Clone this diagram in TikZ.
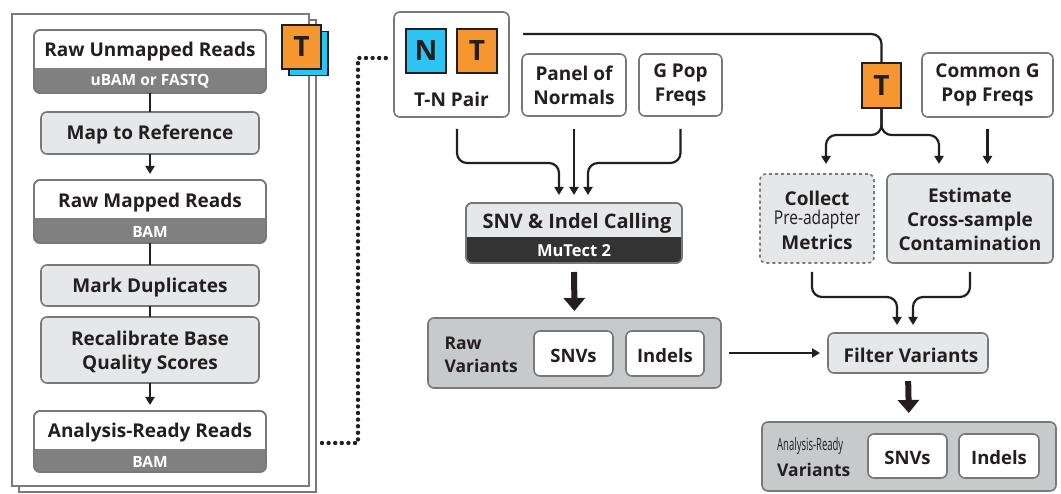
\documentclass[tikz,border=0pt]{standalone}
\usepackage{fontspec}
\setmainfont{Open Sans}
\usetikzlibrary{arrows.meta,calc}
\definecolor{tcol}{HTML}{231F20}
\definecolor{bcol}{HTML}{77787B}
\definecolor{lgray}{HTML}{E6E7E8}
\definecolor{bandg}{HTML}{808080}
\definecolor{dband}{HTML}{333333}
\definecolor{cgray}{HTML}{C8C9CB}
\definecolor{ccol}{HTML}{231F20}
\definecolor{orng}{HTML}{F5962E}
\definecolor{blu}{HTML}{2BC4F3}
\definecolor{sheetc}{HTML}{7A7A7A}
\tikzset{
  wbox/.style={draw=bcol, line width=1.6pt, rounded corners=6pt, fill=white, inner sep=0pt, outer sep=0pt},
  gbox/.style={wbox, fill=lgray},
  cbox/.style={wbox, fill=cgray},
  badge/.style={draw=tcol, line width=1.6pt, inner sep=0pt, outer sep=0pt, text=tcol, font=\bfseries\fontsize{28}{29}\selectfont},
  lab/.style={text=tcol, align=center, yshift=-2pt, font=\bfseries\fontsize{19}{24}\selectfont},
  btxt/.style={text=white, yshift=-1pt, font=\bfseries\fontsize{15.5}{17}\selectfont},
  sheet/.style={draw=sheetc, line width=1.5pt, fill=white},
  conn/.style={draw=ccol, line width=2.2pt, rounded corners=10pt},
  arr/.style={conn, -{Triangle[length=8pt,width=9pt]}},
  fat/.style={draw=ccol, line width=6pt, -{Triangle[length=13pt,width=21pt]}},
  dots/.style={draw=ccol, line width=4.4pt, line cap=round, dash pattern=on 0pt off 6.6pt}
}
\begin{document}
\begin{tikzpicture}[x=1pt,y=-1pt]
\useasboundingbox (0,0) rectangle (1061,494);

% ---------- left sheets ----------
\draw[sheet] (19,20) rectangle (316,492);
\draw[sheet] (12,14) rectangle (309,486);
\node[badge, fill=blu, minimum width=39pt, minimum height=44pt] (tb) at (308.5,53.5) {};
\node[badge, fill=orng, minimum width=39pt, minimum height=44pt] (ta) at (301.5,47) {T};

% Raw Unmapped Reads
\node[wbox, minimum width=232pt, minimum height=63pt] (ru) at (150,61.5) {};
\begin{scope}
  \clip[rounded corners=6pt] (ru.north west) rectangle (ru.south east);
  \fill[bandg] (34,68) rectangle (266,93);
\end{scope}
\draw[bcol, line width=1.6pt, rounded corners=6pt] (ru.north west) rectangle (ru.south east);
\node[lab] (rut) at (150,50) {Raw Unmapped Reads};
\node[btxt] (rub) at (150,80.5) {uBAM or FASTQ};

% Map to Reference
\node[gbox, minimum width=218pt, minimum height=42pt] (mr) at (150,133) {};
\node[lab] (mrt) at (150,133) {Map to Reference};

% Raw Mapped Reads
\node[wbox, minimum width=232pt, minimum height=63pt] (rm) at (150,211.5) {};
\begin{scope}
  \clip[rounded corners=6pt] (rm.north west) rectangle (rm.south east);
  \fill[bandg] (34,218) rectangle (266,243);
\end{scope}
\draw[bcol, line width=1.6pt, rounded corners=6pt] (rm.north west) rectangle (rm.south east);
\node[lab] (rmt) at (150,201) {Raw Mapped Reads};
\node[btxt] (rmb) at (150,230.5) {BAM};

% Mark Duplicates
\node[gbox, minimum width=218pt, minimum height=41pt] (md) at (150,285.5) {};
\node[lab] (mdt) at (150,285.5) {Mark Duplicates};
% Recalibrate
\node[gbox, minimum width=218pt, minimum height=66pt] (rc) at (150,350) {};
\node[lab] (rct) at (150,350.5) {Recalibrate Base\\Quality Scores};

% Analysis-Ready Reads
\node[wbox, minimum width=232pt, minimum height=61pt] (ar) at (150,441.5) {};
\begin{scope}
  \clip[rounded corners=6pt] (ar.north west) rectangle (ar.south east);
  \fill[bandg] (34,449) rectangle (266,472);
\end{scope}
\draw[bcol, line width=1.6pt, rounded corners=6pt] (ar.north west) rectangle (ar.south east);
\node[lab] (art) at (150,431) {Analysis-Ready Reads};
\node[btxt] (arb) at (150,461) {BAM};

\draw[conn] (ru.south) -- (mr.north);
\draw[arr, shorten >=6pt] (mr.south) -- (rm.north);
\draw[conn] (rm.south) -- (md.north);
\draw[conn] (md.south) -- (rc.north);
\draw[arr, shorten >=6pt] (rc.south) -- (ar.north);

% ---------- middle ----------
\node[wbox, minimum width=115pt, minimum height=105pt] (tn) at (451.5,64.5) {};
\node[badge, fill=blu, minimum width=40pt, minimum height=44pt] (nsq) at (426,51) {N};
\node[badge, fill=orng, minimum width=40pt, minimum height=44pt] (tsq) at (477,51) {T};
\node[lab] (tnt) at (451.5,97) {T-N Pair};

\coordinate (ds) at (322,443);
\coordinate (de) at (386,58);
\draw[dots] (ds) -| (358,58) -- (de);

\node[wbox, minimum width=104pt, minimum height=62pt] (pn) at (574,85) {};
\node[lab] (pnt) at (574,83) {Panel of\\Normals};
\node[wbox, minimum width=83pt, minimum height=62pt] (gp) at (680.5,85) {};
\node[lab] (gpt) at (680.5,83) {G Pop\\Freqs};

% SNV & Indel Calling
\node[gbox, minimum width=216pt, minimum height=60pt] (snv) at (574,233) {};
\begin{scope}
  \clip[rounded corners=6pt] (snv.north west) rectangle (snv.south east);
  \fill[dband] (466,237) rectangle (682,263);
\end{scope}
\draw[bcol, line width=1.6pt, rounded corners=6pt] (snv.north west) rectangle (snv.south east);
\node[lab, font=\bfseries\fontsize{20}{22}\selectfont] (snvt) at (577,221.5) {SNV \& Indel Calling};
\node[btxt, font=\bfseries\fontsize{16.5}{18}\selectfont] (snvb) at (574,250) {MuTect 2};

\draw[arr, shorten >=8pt] ($(tn.south)+(5.5,12)$) -- ++(0,34) -| ($(snv.north)+(-15,0)$);
\draw[arr, shorten >=8pt, shorten <=13pt] (pn.south) -- (snv.north);
\draw[arr, shorten >=8pt] ($(gp.south)+(0,13)$) -- ++(0,34) -| ($(snv.north)+(14,0)$);

% Raw Variants
\node[cbox, minimum width=293pt, minimum height=70pt] (rv) at (574.5,353) {};
\node[lab, align=left, anchor=west, font=\bfseries\fontsize{17.5}{23}\selectfont] (rvt) at (441,352.5) {Raw\\Variants};
\node[wbox, minimum width=79pt, minimum height=45pt] (rvs) at (573.5,353.5) {};
\node[lab, font=\bfseries\fontsize{18.5}{22}\selectfont] (rvst) at (573.5,353.5) {SNVs};
\node[wbox, minimum width=78pt, minimum height=45pt] (rvi) at (665,353.5) {};
\node[lab, font=\bfseries\fontsize{18.5}{22}\selectfont] (rvit) at (665,353.5) {Indels};
\draw[fat, shorten <=9pt, shorten >=7pt] (snv.south) -- (rv.north);

% ---------- right ----------
\coordinate (tl) at (523,34);
\node[badge, fill=orng, minimum width=39pt, minimum height=45pt] (t2) at (881.5,85.5) {T};
\draw[conn] (tl) -| (t2.north);

\node[gbox, dashed, minimum width=114pt, minimum height=89pt] (cp) at (817,218.5) {};
\node[lab] (cp1) at (817,196.5) {Collect};
\node[text=tcol, inner sep=0pt] (cp2) at (817,220) {\scalebox{0.82}[1]{\fontsize{19}{22}\selectfont Pre-adapter}};
\node[lab] (cp3) at (817,240.5) {Metrics};
\node[gbox, minimum width=166pt, minimum height=89pt] (ec) at (970,218.5) {};
\node[lab] (ect) at (970,217.5) {Estimate\\Cross-sample\\Contamination};
\node[wbox, minimum width=131pt, minimum height=64pt] (cg) at (987.5,85) {};
\node[lab] (cgt) at (987.5,83) {Common G\\Pop Freqs};

\draw[arr, shorten >=10pt] (t2.south) -- ++(0,27) -| ($(cp.north)+(9,0)$);
\draw[arr, shorten >=10pt] (t2.south) -- ++(0,27) -| ($(ec.north)+(-31,0)$);
\draw[arr, shorten >=10pt, shorten <=12pt] (cg.south) -- (cg.south|-ec.north);

\node[gbox, minimum width=160pt, minimum height=40pt] (fv) at (908,353) {};
\node[lab] (fvt) at (911,353) {Filter Variants};
\draw[arr, shorten >=8pt] ($(cp.south)+(-5,9)$) -- ++(0,25) -| ($(fv.north)+(-11,0)$);
\draw[arr, shorten >=8pt] ($(ec.south)+(0,9)$) -- ++(0,25) -| ($(fv.north)+(5,0)$);
\draw[arr, shorten <=8pt, shorten >=8pt] (rv.east) -- (fv.west);

% Analysis-Ready Variants
\node[cbox, minimum width=294pt, minimum height=69pt] (av) at (909,456.5) {};
\node[text=tcol, anchor=west, inner sep=0pt] (avt1) at (777,446) {\scalebox{0.56}[1]{\fontsize{17}{19}\selectfont Analysis-Ready}};
\node[text=tcol, anchor=west, inner sep=0pt, font=\bfseries\fontsize{17.5}{20}\selectfont] (avt2) at (777,470) {Variants};
\node[wbox, minimum width=79pt, minimum height=44pt] (avs) at (907.5,456) {};
\node[lab, font=\bfseries\fontsize{18.5}{22}\selectfont] (avst) at (907.5,456) {SNVs};
\node[wbox, minimum width=80pt, minimum height=44pt] (avi) at (999,456) {};
\node[lab, font=\bfseries\fontsize{18.5}{22}\selectfont] (avit) at (999,456) {Indels};
\draw[fat, shorten <=8pt, shorten >=9pt] (fv.south) -- (av.north);
\end{tikzpicture}
\end{document}
